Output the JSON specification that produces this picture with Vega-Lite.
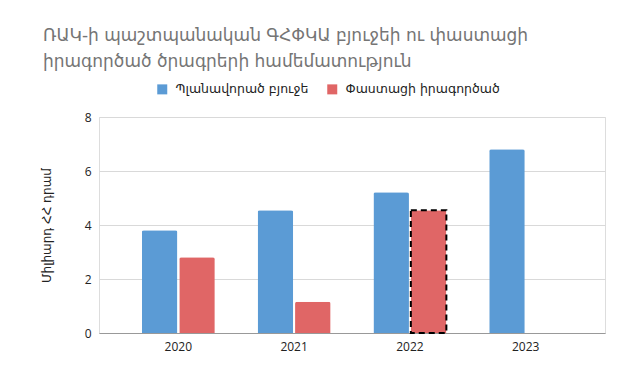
{
  "$schema": "https://vega.github.io/schema/vega-lite/v6.json",
  "width": 506,
  "height": 216,
  "autosize": {"type": "none"},
  "padding": {"left": 99, "top": 117, "right": 35, "bottom": 53},
  "background": "white",
  "title": {
    "text": ["ՌԱԿ-ի պաշտպանական ԳՀՓԿԱ բյուջեի ու փաստացի", "իրագործած ծրագրերի համեմատություն"],
    "anchor": "start",
    "frame": "group",
    "font": "DejaVu Sans",
    "fontSize": 17,
    "fontWeight": "normal",
    "color": "#757575",
    "lineHeight": 26,
    "dx": -56,
    "offset": 12
  },
  "data": {
    "values": [
      {"year": "2020", "series": "Պլանավորած բյուջե", "value": 3.81},
      {"year": "2020", "series": "Փաստացի իրագործած", "value": 2.81},
      {"year": "2021", "series": "Պլանավորած բյուջե", "value": 4.55},
      {"year": "2021", "series": "Փաստացի իրագործած", "value": 1.16},
      {"year": "2022", "series": "Պլանավորած բյուջե", "value": 5.21},
      {"year": "2022", "series": "Փաստացի իրագործած", "value": 4.55},
      {"year": "2023", "series": "Պլանավորած բյուջե", "value": 6.81},
      {"year": "2023", "series": "Փաստացի իրագործած", "value": null}
    ]
  },
  "encoding": {
    "x": {
      "field": "year",
      "type": "nominal",
      "scale": {"paddingInner": 0.37, "paddingOuter": 0.37},
      "axis": {
        "title": null,
        "labelAngle": 0,
        "ticks": false,
        "domainColor": "#999999",
        "labelFont": "Open Sans",
        "labelFontSize": 12,
        "labelColor": "#222222",
        "labelPadding": 8,
        "grid": false
      }
    },
    "xOffset": {
      "field": "series",
      "type": "nominal",
      "sort": ["Պլանավորած բյուջե", "Փաստացի իրագործած"],
      "scale": {"paddingInner": 0.05}
    },
    "y": {
      "field": "value",
      "type": "quantitative",
      "scale": {"domain": [0, 8]},
      "axis": {
        "title": "Միլիարդ ՀՀ դրամ",
        "titleFont": "DejaVu Sans",
        "titleFontSize": 12,
        "titleFontWeight": "normal",
        "titleColor": "#222222",
        "titlePadding": 31,
        "values": [0, 2, 4, 6, 8],
        "domain": false,
        "ticks": false,
        "gridColor": "#d9d9d9",
        "labelFont": "Open Sans",
        "labelFontSize": 12,
        "labelColor": "#222222",
        "labelPadding": 8
      }
    }
  },
  "layer": [
    {
      "mark": {"type": "bar", "cornerRadiusTopLeft": 2, "cornerRadiusTopRight": 2},
      "encoding": {
        "color": {
          "field": "series",
          "type": "nominal",
          "scale": {"domain": ["Պլանավորած բյուջե", "Փաստացի իրագործած"], "range": ["#5b9bd5", "#e06666"]},
          "legend": {
            "title": null,
            "orient": "none",
            "legendX": 57,
            "legendY": -34,
            "direction": "horizontal",
            "symbolType": "square",
            "symbolSize": 100,
            "symbolStrokeWidth": 0,
            "labelOffset": 7,
            "labelFont": "DejaVu Sans",
            "labelFontSize": 12.5,
            "labelLimit": 0,
            "labelColor": "#222222",
            "columnPadding": 17
          }
        }
      }
    },
    {
      "transform": [{"filter": "datum.year === '2022' && datum.series === 'Փաստացի իրագործած'"}],
      "mark": {"type": "bar", "fillOpacity": 0, "stroke": "black", "strokeWidth": 2, "strokeDash": [6, 4]},
      "encoding": {}
    }
  ]
}
